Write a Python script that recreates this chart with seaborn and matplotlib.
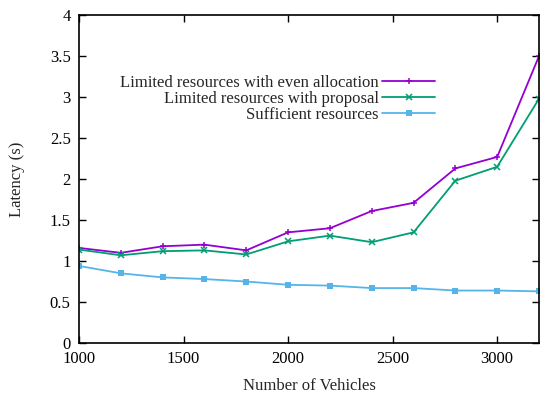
import numpy as np
import pandas as pd
import matplotlib
matplotlib.use("Agg")
import matplotlib.pyplot as plt
import seaborn as sns

vehicles = [1000, 1200, 1400, 1600, 1800, 2000, 2200, 2400, 2600, 2800, 3000, 3200]
even_alloc = [1.16, 1.10, 1.18, 1.20, 1.13, 1.35, 1.40, 1.61, 1.71, 2.13, 2.27, 3.50]
proposal = [1.14, 1.07, 1.12, 1.13, 1.08, 1.24, 1.31, 1.23, 1.35, 1.98, 2.15, 2.98]
sufficient = [0.94, 0.85, 0.80, 0.78, 0.75, 0.71, 0.70, 0.67, 0.67, 0.64, 0.64, 0.63]

labels = ["Limited resources with even allocation",
          "Limited resources with proposal",
          "Sufficient resources"]
colors = ["#9400D3", "#009E73", "#56B4E9"]
markers = ["+", "x", "s"]

sns.set_style("ticks")
plt.rcParams['font.family'] = ['Liberation Serif', 'DejaVu Serif']

fig = plt.figure(figsize=(5.5, 3.99), dpi=100)
ax = fig.add_axes([0.1436, 0.1404, 0.8364, 0.8216])

for ys, lab, c, m in zip([even_alloc, proposal, sufficient], labels, colors, markers):
    df = pd.DataFrame({"x": vehicles, "y": ys})
    kw = dict(markersize=5, markeredgewidth=1.1, markeredgecolor=c)
    if m == "s":
        kw = dict(markersize=3.8, markeredgewidth=0, markeredgecolor=c)
    sns.lineplot(data=df, x="x", y="y", ax=ax, color=c, marker=m, label=lab,
                 linewidth=1.3, **kw)

ax.set_xlim(1000, 3200)
ax.set_ylim(0, 4)
ax.set_xticks([1000, 1500, 2000, 2500, 3000])
ax.set_yticks(np.arange(0, 4.01, 0.5))
ax.set_yticklabels(["0", "0.5", "1", "1.5", "2", "2.5", "3", "3.5", "4"])
ax.tick_params(direction="in", length=5, width=1, top=True, right=True,
               labelsize=12, colors="black", pad=6)
for s in ax.spines.values():
    s.set_linewidth(1.2)
    s.set_color("black")
ax.set_xlabel("Number of Vehicles", fontsize=12, labelpad=8)
ax.set_ylabel("Latency (s)", fontsize=12, labelpad=18)

ax.legend(loc="upper right", bbox_to_anchor=(0.793, 0.842), markerfirst=False,
          frameon=False, fontsize=12, handlelength=3.2, handletextpad=0.2,
          labelspacing=0.0, borderpad=0)

fig.savefig("out.png", dpi=100)
